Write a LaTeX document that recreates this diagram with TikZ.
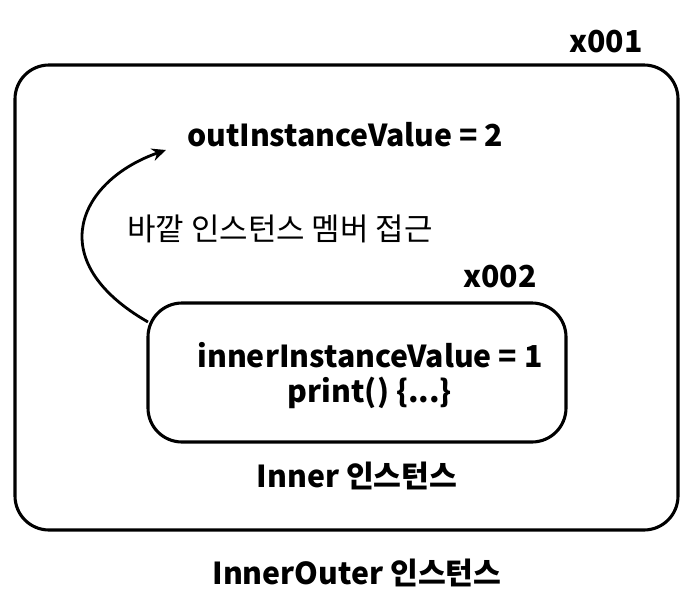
\documentclass[tikz,border=0pt]{standalone}
\usepackage{fontspec}
\setmainfont{Noto Sans CJK KR}
\usetikzlibrary{arrows.meta}

\begin{document}
\begin{tikzpicture}[
        x=0.025cm, y=-0.025cm,
        every node/.style={font=\fontsize{22}{26}\selectfont},
        bold/.style={font=\fontsize{21.5}{26}\selectfont\bfseries},
        instbox/.style={draw, line width=2.2pt, rounded corners=0.85cm},
    ]
    \useasboundingbox (0,0) rectangle (691,599);

    % Outer instance
    \draw[instbox] (15,65) rectangle (678,530);
    \node[bold] (outaddr) at (606,42) {x001};
    \node[bold] (outval) at (345,135) {outInstanceValue = 2};
    \node (access) at (280,229) {바깥 인스턴스 멤버 접근};
    \node[bold] (outname) at (357,573) {InnerOuter 인스턴스};

    % Inner instance
    \draw[instbox] (148,303) rectangle (566,442);
    \coordinate (innerleft) at (148,322);
    \node[bold] (inaddr) at (500,277) {x002};
    \node[bold] (inval) at (370,355) {innerInstanceValue = 1};
    \node[bold] (inprint) at (370,393) {print() \{...\}};
    \node[bold] (inname) at (357,476) {Inner 인스턴스};

    % Access arrow
    \coordinate (tip) at (166,150);
    \draw[line width=2pt, -{Stealth[length=10pt,width=9pt]}]
        (innerleft) .. controls (40,260) and (80,180) .. (tip);
\end{tikzpicture}
\end{document}
